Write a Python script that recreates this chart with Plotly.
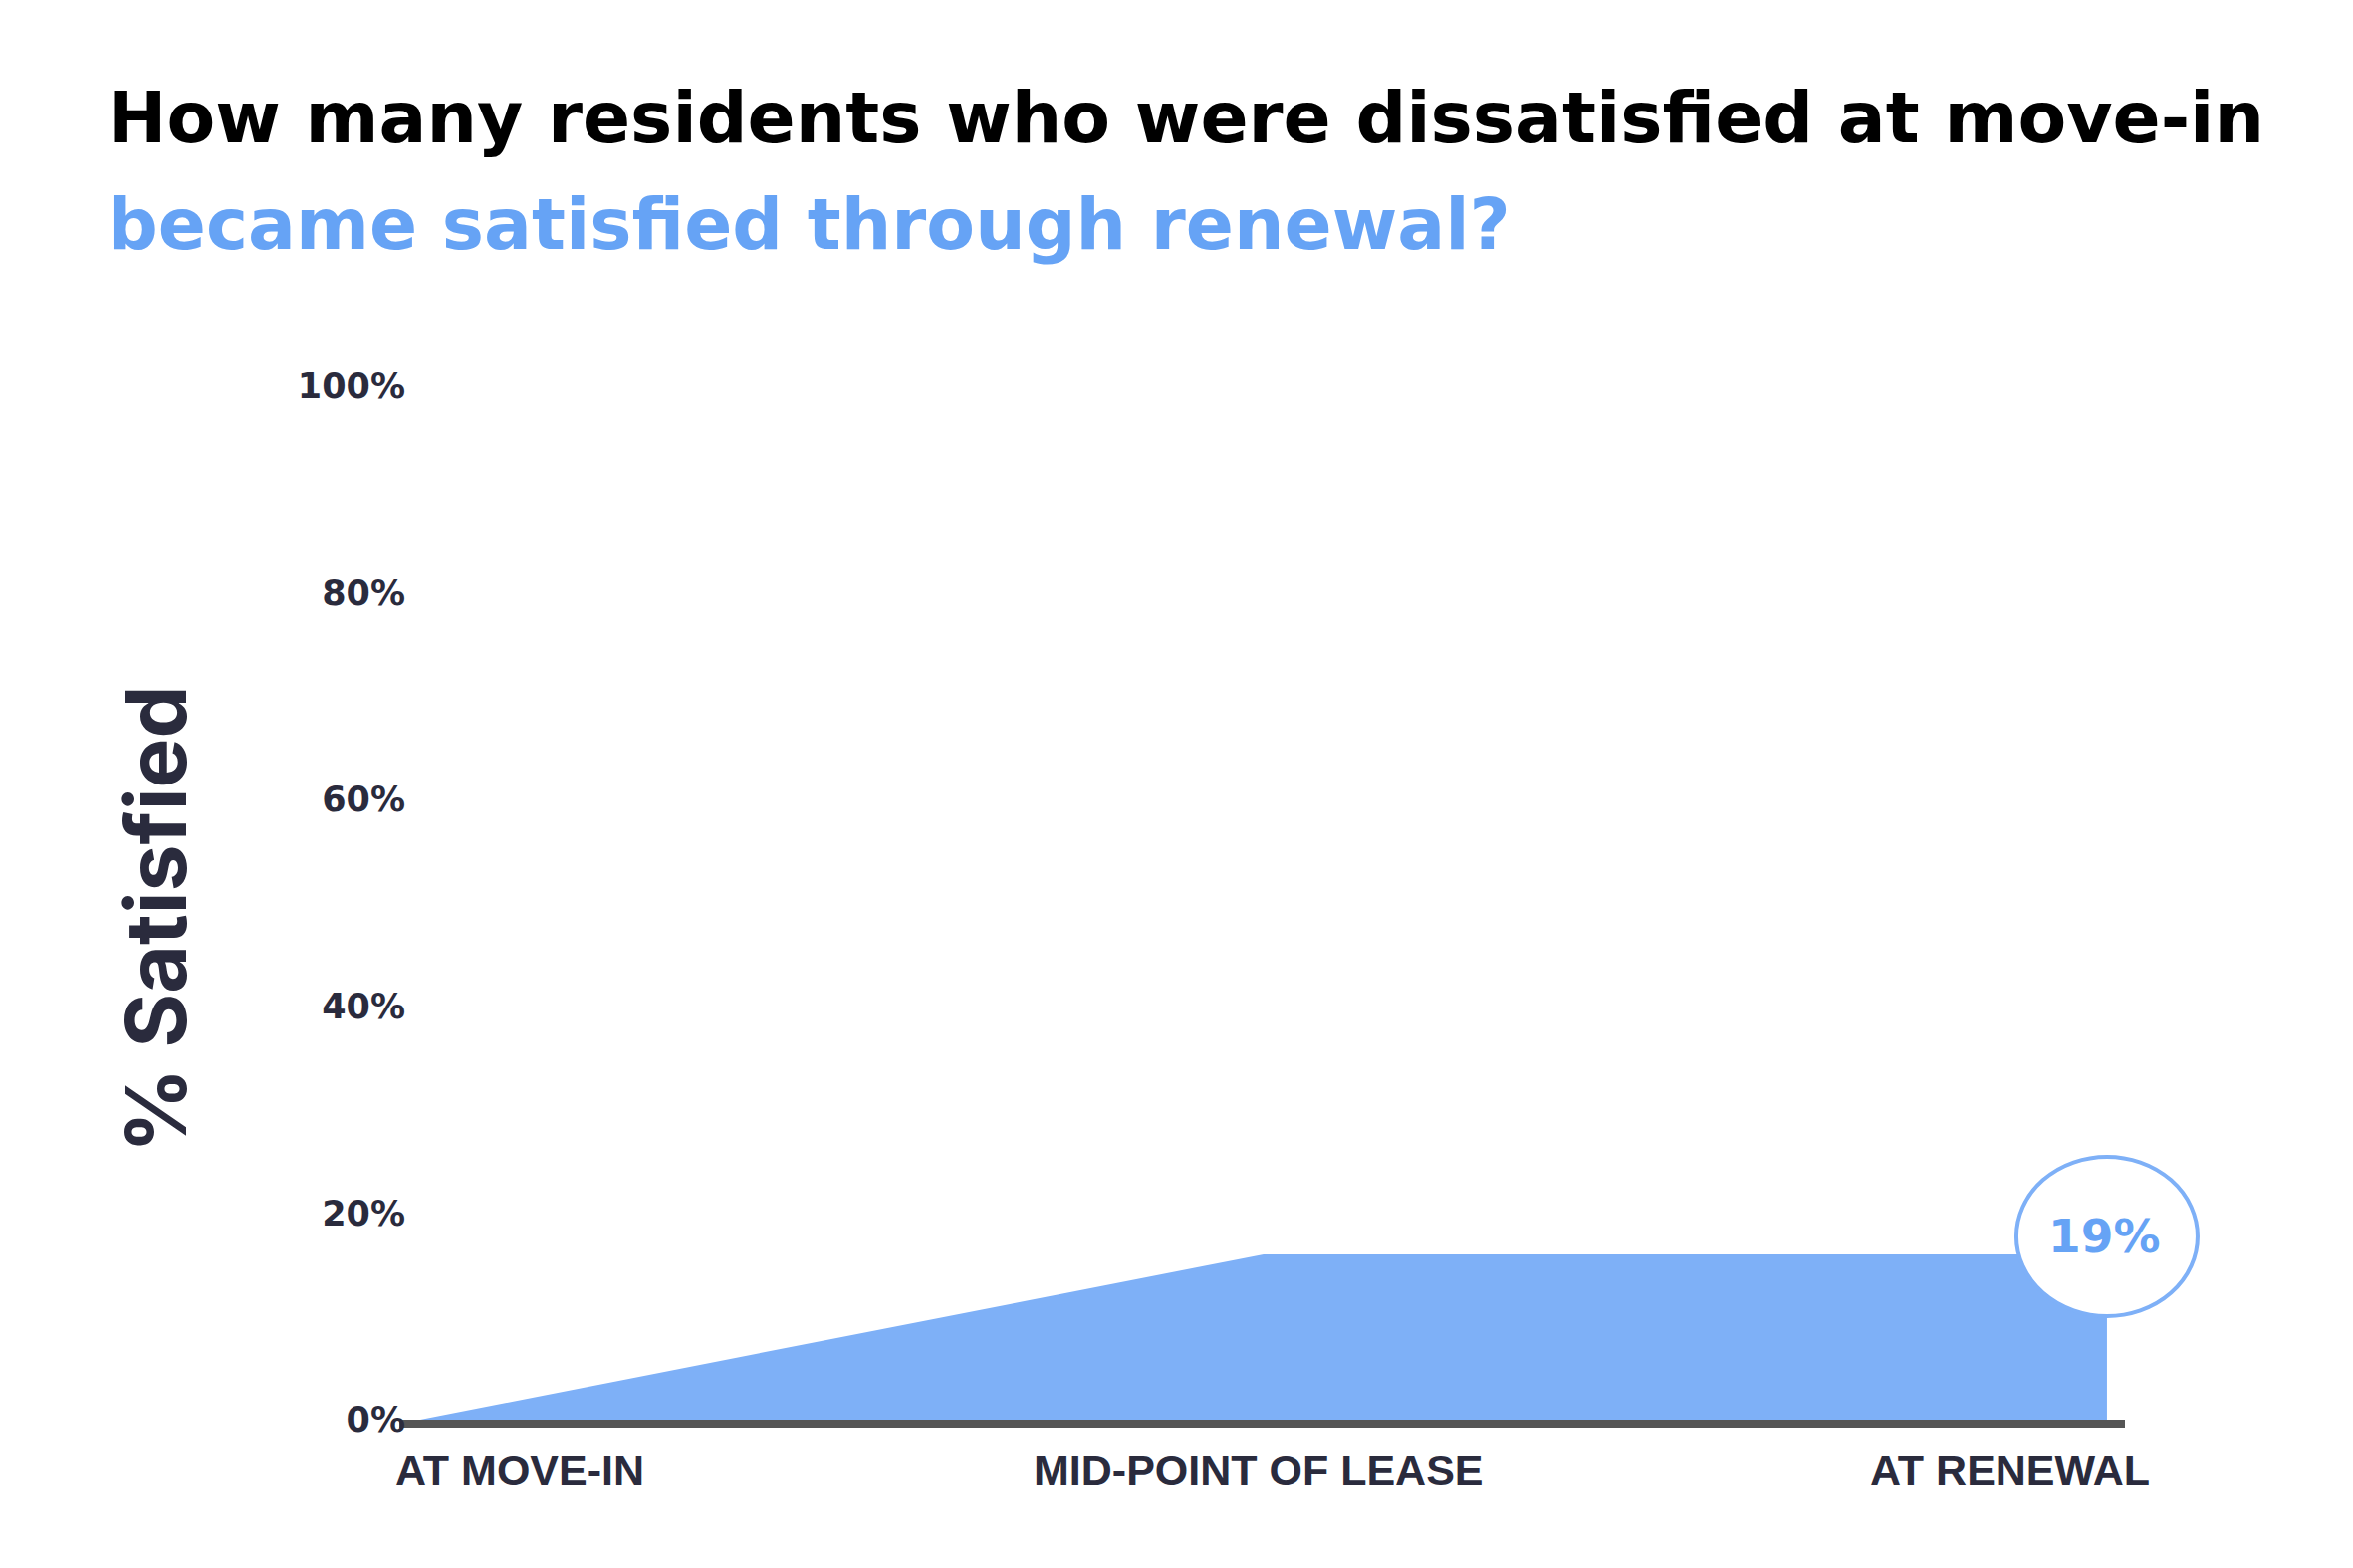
import plotly.graph_objects as go

# ---- data ----
stages = ["AT MOVE-IN", "MID-POINT OF LEASE", "AT RENEWAL"]
pct_satisfied = [0, 16, 16]
renewal_label = 19
y_ticks = [0, 20, 40, 60, 80, 100]
y_tick_text = ["0%", "20%", "40%", "60%", "80%", "100%"]

title_line1 = "How many residents who were dissatisfied at move-in"
title_line2 = "became satisfied through renewal?"
y_title = "% Satisfied"

BLUE_FILL = "#7eb0f7"
BLUE_TEXT = "#66a3f5"
NAVY = "#2a2b3d"

W, H = 2363, 1575
ML, MR, MT, MB = 393, 237, 380, 157
plot_h = H - MT - MB
plot_w = W - ML - MR
X_RANGE = [-0.0248, 2.0213]
Y_RANGE = [0, 100]

x_idx = list(range(len(stages)))

fig = go.Figure()
fig.add_trace(go.Scatter(
    x=x_idx, y=pct_satisfied, mode="lines",
    line=dict(width=0, color=BLUE_FILL),
    fill="tozeroy", fillcolor=BLUE_FILL,
    hoverinfo="skip", showlegend=False,
))

# circle badge anchored at the renewal point (paper refs so it is not clipped)
ax_paper = (x_idx[-1] - X_RANGE[0]) / (X_RANGE[1] - X_RANGE[0])
ay_paper = (pct_satisfied[-1] - Y_RANGE[0]) / (Y_RANGE[1] - Y_RANGE[0])
fig.add_shape(
    type="circle", xref="paper", yref="paper",
    xsizemode="pixel", ysizemode="pixel",
    xanchor=ax_paper, yanchor=ay_paper,
    x0=-91, x1=91, y0=-62, y1=98,
    line=dict(color=BLUE_FILL, width=4), fillcolor="white", layer="above",
)
fig.add_annotation(
    x=x_idx[-1], y=pct_satisfied[-1], xref="x", yref="y",
    text=f"{renewal_label}%", showarrow=False, yshift=18, xshift=-2,
    font=dict(family="DejaVu Sans", size=47, color=BLUE_TEXT, weight=700),
    xanchor="center", yanchor="middle",
)

# category labels
anchors = ["left", "center", "right"]
shifts = [-27, -5, 45]
for xi, lab, anc, sh in zip(x_idx, stages, anchors, shifts):
    fig.add_annotation(
        x=xi, y=-51 / plot_h, xref="x", yref="paper", text=lab, showarrow=False,
        xanchor=anc, yanchor="middle", xshift=sh,
        font=dict(family="Liberation Sans", size=43, color=NAVY, weight=700),
    )

# titles
fig.add_annotation(
    x=(98 - ML) / plot_w, y=(H - MB - 110) / plot_h, xref="paper", yref="paper",
    text=title_line1, showarrow=False, xanchor="left", yanchor="middle",
    font=dict(family="DejaVu Sans", size=71, color="#000000", weight=700),
)
fig.add_annotation(
    x=(98 - ML) / plot_w, y=(H - MB - 218) / plot_h, xref="paper", yref="paper",
    text=title_line2, showarrow=False, xanchor="left", yanchor="middle",
    font=dict(family="DejaVu Sans", size=71, color=BLUE_TEXT, weight=700),
)
fig.add_annotation(
    x=(148 - ML) / plot_w, y=(H - MB - 916) / plot_h, xref="paper", yref="paper",
    text=y_title, showarrow=False, textangle=-90, xanchor="center", yanchor="middle",
    font=dict(family="Inter", size=84, color=NAVY, weight=700),
)

fig.update_layout(
    width=W, height=H,
    margin=dict(l=ML, r=MR, t=MT, b=MB),
    paper_bgcolor="white", plot_bgcolor="white",
    showlegend=False,
)
fig.update_xaxes(
    range=X_RANGE, showgrid=False, zeroline=False,
    showline=True, linecolor="#555555", linewidth=8,
    showticklabels=False, ticks="", fixedrange=True,
)
fig.update_yaxes(
    range=Y_RANGE, showgrid=False, zeroline=False, showline=False,
    tickvals=y_ticks, ticktext=y_tick_text, ticks="",
    ticklabelstandoff=-7,
    tickfont=dict(family="DejaVu Sans", size=35, color=NAVY, weight=700),
    fixedrange=True,
)

fig.write_html("out.html")
